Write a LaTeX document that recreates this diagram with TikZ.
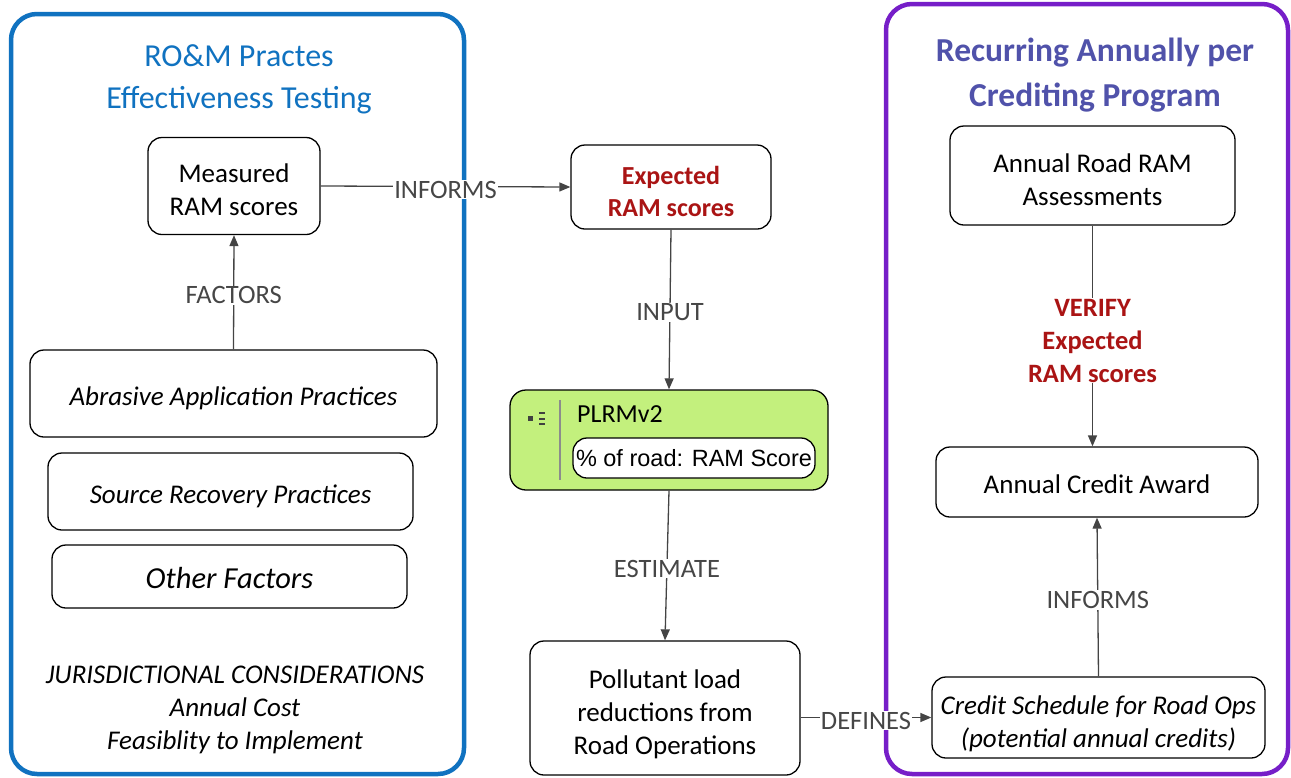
\documentclass[tikz,border=0pt]{standalone}
\usepackage{fontspec}
\setmainfont{Carlito}
\newfontfamily\arialfont{Liberation Sans}
\usetikzlibrary{arrows.meta}
\definecolor{bluebox}{RGB}{16,114,192}
\definecolor{purplebox}{RGB}{118,30,200}
\definecolor{purpletitle}{RGB}{80,82,170}
\definecolor{darkred}{RGB}{170,20,20}
\definecolor{plgreen}{RGB}{195,240,125}
\definecolor{linegray}{RGB}{68,68,68}
\definecolor{labelgray}{RGB}{70,70,70}
\newcommand{\Ts}{\rule{0pt}{31pt}}
\newcommand{\Tm}{\rule{0pt}{34pt}}
\tikzset{
  box/.style={draw=black, line width=1.3pt, rounded corners=14pt, fill=white, align=center,
    font=\fontsize{27}{33}\selectfont, inner sep=0pt,
    execute at end node={\rule[-8pt]{0pt}{0pt}}},
  conn/.style={draw=linegray, line width=1.3pt},
  arr/.style={conn, -{Triangle[length=11pt,width=9pt]}},
  lbl/.style={fill=white, text=labelgray, font=\fontsize{26.5}{30}\selectfont, inner sep=1pt, align=center, yshift=-3pt},
  frame/.style={line width=4.5pt, rounded corners=26pt},
}
\begin{document}
\begin{tikzpicture}[x=1pt,y=-1pt]
\useasboundingbox (0,0) rectangle (1291,777);
% frames
\draw[frame, draw=bluebox] (11,14) rectangle (464,774);
\draw[frame, draw=purplebox] (886,4) rectangle (1288,774);
% titles
\node[text=bluebox, align=center, font=\fontsize{32}{42}\selectfont] (t1) at (239,79) {RO\&M Practes\\Effectiveness Testing};
\node[text=purpletitle, align=center, font=\fontsize{33.5}{45}\selectfont\bfseries] (t2) at (1095,75) {Recurring Annually per\\Crediting Program};
% left nodes
\node[box, minimum width=172pt, minimum height=97pt] (meas) at (234,186) {\Tm Measured\\RAM scores};
\node[box, minimum width=407pt, minimum height=87pt] (abr) at (233.5,393.5) {\Ts\itshape Abrasive Application Practices};
\node[box, minimum width=365pt, minimum height=77pt] (src) at (230.5,491.5) {\Ts\itshape Source Recovery Practices};
\node[box, minimum width=355pt, minimum height=63pt, font=\fontsize{30.5}{34}\selectfont] (oth) at (229.5,576.5) {\Ts\itshape Other Factors};
\node[align=center, font=\fontsize{27}{33}\selectfont\itshape] (jur) at (235,710) {JURISDICTIONAL CONSIDERATIONS\\Annual Cost\\Feasiblity to Implement};
% middle nodes
\node[box, minimum width=200pt, minimum height=84pt, text=darkred, font=\fontsize{26}{32}\selectfont\bfseries] (exp) at (671,187) {\Tm Expected\\RAM scores};
\node[draw=black, line width=1.3pt, rounded corners=16pt, fill=plgreen, minimum width=318pt, minimum height=100pt] (plrm) at (669,440) {};
\draw[line width=1.2pt, draw=black!45] (560,400) -- (560,480);
\fill[black!75] (528,416) rectangle (533,421);
\foreach \yy in {413,418.5,424} \fill[black!75] (539,\yy-1) rectangle (545,\yy+1);
\node[anchor=west, font=\fontsize{26}{30}\selectfont, inner sep=0pt] (plrmt) at (577,414) {PLRMv2};
\node[draw=black, line width=1.3pt, rounded corners=14pt, fill=white, minimum width=242pt, minimum height=40pt, inner sep=0pt, font=\arialfont\fontsize{23.5}{28}\selectfont] (ram) at (694,458) {\% of road: RAM Score};
\node[box, minimum width=270pt, minimum height=134pt] (pol) at (665,708) {\Tm Pollutant load\\reductions from\\Road Operations};
% right nodes
\node[box, minimum width=285pt, minimum height=99pt] (ara) at (1092.5,175.5) {\Tm Annual Road RAM\\Assessments};
\node[box, minimum width=322pt, minimum height=70pt] (aca) at (1097,482) {\Ts Annual Credit Award};
\node[box, minimum width=333pt, minimum height=81pt] (cs) at (1098.5,717.5) {\Tm\itshape Credit Schedule for Road Ops\\\itshape (potential annual credits)};
% connectors
\draw[arr] (abr.north) -- node[lbl] {FACTORS} (meas.south);
\draw[arr] (meas.east) -- node[lbl] {INFORMS} (exp.west);
\draw[arr] (exp.south) -- node[lbl] {INPUT} (plrm.north);
\draw[arr] (plrm.south) -- node[lbl] {ESTIMATE} (pol.north);
\draw[arr] (pol.east |- cs.west) -- node[lbl] {DEFINES} (cs.west);
\draw[arr] (cs.north) -- node[lbl] {INFORMS} (aca.north |- aca.south);
\draw[arr] (ara.south) -- node[lbl, yshift=-1.5pt, text=darkred, font=\fontsize{26.5}{33}\selectfont\bfseries] {VERIFY\\Expected\\RAM scores} (ara.south |- aca.north);
\end{tikzpicture}
\end{document}
